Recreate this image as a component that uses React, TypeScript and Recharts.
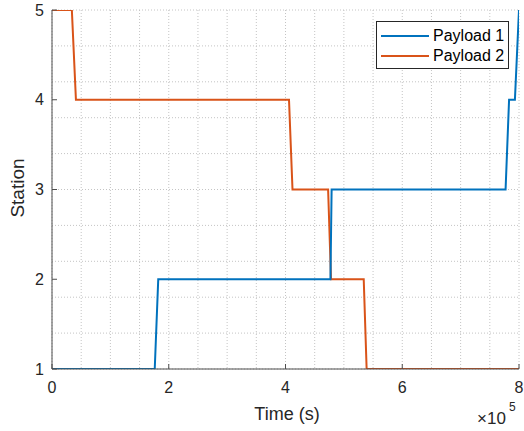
import { CartesianGrid, Line, LineChart, XAxis, YAxis } from "recharts"

const payload1Time = [0, 176000, 182000, 477000, 479000, 777000, 783000, 793000, 800000]
const payload1Station = [1, 1, 2, 2, 3, 3, 4, 4, 5]

const payload2Time = [0, 34000, 41000, 406000, 412000, 473000, 478000, 534000, 539000, 800000]
const payload2Station = [5, 5, 4, 4, 3, 3, 2, 2, 1, 1]

const xTicks = [0, 200000, 400000, 600000, 800000]
const yTicks = [1, 2, 3, 4, 5]
const xGrid = [0, 50000, 100000, 150000, 200000, 250000, 300000, 350000, 400000, 450000, 500000, 550000, 600000, 650000, 700000, 750000, 800000]
const yGrid = [1, 1.2, 1.4, 1.6, 1.8, 2, 2.2, 2.4, 2.6, 2.8, 3, 3.2, 3.4, 3.6, 3.8, 4, 4.2, 4.4, 4.6, 4.8, 5]

const payload1 = payload1Time.map((t, i) => ({ t, s: payload1Station[i] }))
const payload2 = payload2Time.map((t, i) => ({ t, s: payload2Station[i] }))

const BLUE = "#0072BD"
const ORANGE = "#D95319"
const AXIS = "#4d4d4d"
const TEXT = "#262626"
const FONT = "'Liberation Sans', Arial, sans-serif"

const series = [
  { name: "Payload 1", color: BLUE },
  { name: "Payload 2", color: ORANGE },
]

function LegendBox() {
  return (
    <div
      style={{
        position: "absolute",
        left: 376,
        top: 21,
        width: 131,
        height: 46,
        border: `1px solid ${TEXT}`,
        background: "#fff",
        fontFamily: FONT,
        fontSize: 16,
        color: "#000",
        boxSizing: "content-box",
      }}
    >
      {series.map((s, i) => (
        <div
          key={s.name}
          style={{ display: "flex", alignItems: "center", height: 20, marginTop: i === 0 ? 4 : 0 }}
        >
          <div style={{ width: 48, height: 2, background: s.color, marginLeft: 4, marginRight: 4 }} />
          <span>{s.name}</span>
        </div>
      ))}
    </div>
  )
}

export default function App() {
  return (
    <div style={{ position: "absolute", left: 0, top: 0, width: 524, height: 431, background: "#fff" }}>
      <LineChart width={524} height={431} margin={{ top: 10, right: 5, left: 0, bottom: 0 }}>
        <CartesianGrid
          stroke="#c4c4c4"
          strokeDasharray="1 2"
          verticalValues={xGrid}
          horizontalValues={yGrid}
        />
        <XAxis
          dataKey="t"
          type="number"
          domain={[0, 800000]}
          ticks={xTicks}
          tickFormatter={(v: number) => String(v / 100000)}
          height={62}
          allowDataOverflow
          stroke={AXIS}
          tickSize={-5}
          tickMargin={18}
          tick={{ fill: TEXT, fontSize: 16, fontFamily: FONT }}
        />
        <XAxis
          xAxisId="top"
          orientation="top"
          dataKey="t"
          type="number"
          domain={[0, 800000]}
          ticks={xTicks}
          height={0}
          stroke={AXIS}
          tickSize={-5}
          tick={false}
        />
        <YAxis
          dataKey="s"
          type="number"
          domain={[1, 5]}
          ticks={yTicks}
          width={52}
          allowDataOverflow
          stroke={AXIS}
          tickSize={-5}
          tickMargin={13}
          tick={{ fill: TEXT, fontSize: 16, fontFamily: FONT }}
        />
        <YAxis
          yAxisId="right"
          orientation="right"
          dataKey="s"
          type="number"
          domain={[1, 5]}
          ticks={yTicks}
          width={0}
          stroke={AXIS}
          tickSize={-5}
          tick={false}
        />
        <Line
          data={payload2}
          dataKey="s"
          name="Payload 2"
          stroke={ORANGE}
          strokeWidth={2}
          dot={false}
          isAnimationActive={false}
        />
        <Line
          data={payload1}
          dataKey="s"
          name="Payload 1"
          stroke={BLUE}
          strokeWidth={2}
          dot={false}
          isAnimationActive={false}
        />
      </LineChart>
      <LegendBox />
      <div
        style={{
          position: "absolute",
          left: 0,
          width: 574,
          top: 404,
          textAlign: "center",
          fontFamily: FONT,
          fontSize: 18,
          color: TEXT,
        }}
      >
        Time (s)
      </div>
      <div
        style={{
          position: "absolute",
          left: 477,
          top: 409,
          fontFamily: FONT,
          fontSize: 17,
          color: TEXT,
        }}
      >
        ×10
      </div>
      <div
        style={{
          position: "absolute",
          left: 509,
          top: 400,
          fontFamily: FONT,
          fontSize: 12,
          color: TEXT,
        }}
      >
        5
      </div>
      <div
        style={{
          position: "absolute",
          left: 18,
          top: 188,
          transform: "translate(-50%, -50%) rotate(-90deg)",
          fontFamily: FONT,
          fontSize: 19,
          color: TEXT,
          whiteSpace: "nowrap",
        }}
      >
        Station
      </div>
    </div>
  )
}
